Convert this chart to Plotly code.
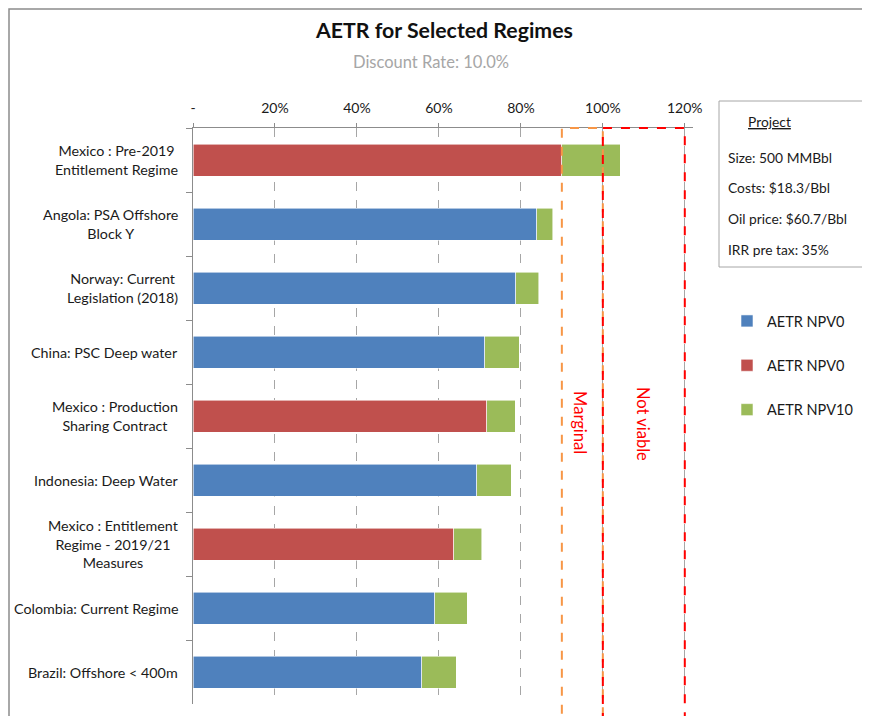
import plotly.graph_objects as go

# ---------------- data ----------------
categories = [
    "Mexico : Pre-2019<br>Entitlement Regime",
    "Angola: PSA Offshore<br>Block Y",
    "Norway: Current<br>Legislation (2018)",
    "China: PSC Deep water",
    "Mexico : Production<br>Sharing Contract",
    "Indonesia: Deep Water",
    "Mexico : Entitlement<br>Regime - 2019/21<br>Measures",
    "Colombia: Current Regime",
    "Brazil: Offshore < 400m",
]
is_mexico = [True, False, False, False, True, False, True, False, False]
aetr_npv0 = [0.900, 0.839, 0.788, 0.712, 0.717, 0.692, 0.636, 0.590, 0.558]
aetr_npv10_increment = [0.143, 0.039, 0.056, 0.084, 0.069, 0.085, 0.068, 0.079, 0.084]

tick_vals = [0, 0.2, 0.4, 0.6, 0.8, 1.0, 1.2]
tick_text = ["-", "20%", "40%", "60%", "80%", "100%", "120%"]

marginal_zone = [0.9, 1.0]
not_viable_zone = [1.0, 1.2]

project_title = "Project"
project_lines = ["Size: 500 MMBbl", "Costs: $18.3/Bbl", "Oil price: $60.7/Bbl", "IRR pre tax: 35%"]

title_text = "AETR for Selected Regimes"
subtitle_text = "Discount Rate: 10.0%"

# ---------------- styles ----------------
BLUE = "#4F81BD"
RED = "#C0504D"
GREEN = "#9BBB59"
FONT = "Lato"
TXT = "#1a1a1a"

blue_vals = [v if not m else None for v, m in zip(aetr_npv0, is_mexico)]
red_vals = [v if m else None for v, m in zip(aetr_npv0, is_mexico)]

bar_line = dict(color="rgba(255,255,255,0.7)", width=0.8)

fig = go.Figure()
fig.add_trace(go.Bar(y=categories, x=blue_vals, orientation="h", name="AETR NPV0",
                     marker=dict(color=BLUE, line=bar_line), legendgroup="a"))
fig.add_trace(go.Bar(y=categories, x=red_vals, orientation="h", name="AETR NPV0",
                     marker=dict(color=RED, line=bar_line), legendgroup="b"))
fig.add_trace(go.Bar(y=categories, x=aetr_npv10_increment, orientation="h", name="AETR NPV10",
                     marker=dict(color=GREEN, line=bar_line), legendgroup="c"))

# page offset of the plot div (browser body margin)
OFF = 8
W, H = 870, 716
# desired on-screen plot area: x 193..693, y 128..704
SX0, SX1, SY0, SY1 = 193, 693, 128, 704
L = SX0 - OFF
T = SY0 - OFF
R = W - (SX1 - OFF)
B = H - (SY1 - OFF)
PW, PH = SX1 - SX0, SY1 - SY0


def px_x(px):
    return (px - SX0) / PW


def px_y(py):
    return (SY1 - py) / PH


shapes = []
# outer chart border
shapes.append(dict(type="rect", xref="paper", yref="paper", x0=px_x(9), x1=px_x(900),
                   y0=px_y(760), y1=px_y(9), line=dict(color="#8C8C8C", width=1.5), layer="below"))
# marginal / not viable zones
shapes.append(dict(type="rect", xref="x", yref="paper", x0=marginal_zone[0], x1=marginal_zone[1],
                   y0=-0.2, y1=1, line=dict(color="#F79646", width=2, dash="dash")))
shapes.append(dict(type="rect", xref="x", yref="paper", x0=not_viable_zone[0], x1=not_viable_zone[1],
                   y0=-0.2, y1=1, line=dict(color="#FF0000", width=2, dash="dash")))
# project box
shapes.append(dict(type="rect", xref="paper", yref="paper", x0=px_x(719), x1=px_x(866),
                   y0=px_y(267), y1=px_y(101), line=dict(color="#A6A6A6", width=1), fillcolor="white"))

annotations = []
# category labels (centered lines, right-anchored block)
for c in categories:
    annotations.append(dict(text=c, xref="paper", yref="y", x=0, y=c, xanchor="right", xshift=-13,
                            yanchor="middle", align="center", showarrow=False,
                            font=dict(family=FONT, size=14.3, color=TXT)))
# title and subtitle
annotations.append(dict(text="<b>" + title_text + "</b>", xref="paper", yref="paper", x=px_x(444),
                        y=px_y(30), xanchor="center", yanchor="middle", showarrow=False,
                        font=dict(family=FONT, size=21.3, color="#111111")))
annotations.append(dict(text=subtitle_text, xref="paper", yref="paper", x=px_x(431), y=px_y(62),
                        xanchor="center", yanchor="middle", showarrow=False,
                        font=dict(family=FONT, size=16.5, color="#A6A6A6")))
# zone labels
annotations.append(dict(text="Marginal", xref="x", yref="paper", x=0.944, y=px_y(423), textangle=90,
                        showarrow=False, font=dict(family=FONT, size=16.5, color="#FF0000")))
annotations.append(dict(text="Not viable", xref="x", yref="paper", x=1.098, y=px_y(424), textangle=90,
                        showarrow=False, font=dict(family=FONT, size=16.5, color="#FF0000")))
# project box text
annotations.append(dict(text="<u>" + project_title + "</u>", xref="paper", yref="paper", x=px_x(746),
                        y=px_y(122), xanchor="left", yanchor="middle", showarrow=False,
                        font=dict(family=FONT, size=13.8, color=TXT)))
for i, line in enumerate(project_lines):
    annotations.append(dict(text=line, xref="paper", yref="paper", x=px_x(726),
                            y=px_y(157 + i * 30.7), xanchor="left", yanchor="middle", showarrow=False,
                            font=dict(family=FONT, size=13.8, color=TXT)))

fig.update_layout(
    width=W, height=H,
    margin=dict(l=L, r=R, t=T, b=B),
    paper_bgcolor="white", plot_bgcolor="white",
    barmode="stack", bargap=0.5,
    showlegend=True,
    legend=dict(x=px_x(727), y=px_y(305), xanchor="left", yanchor="top",
                traceorder="grouped", tracegroupgap=22.5,
                font=dict(family=FONT, size=14.5, color=TXT), bgcolor="rgba(0,0,0,0)"),
    shapes=shapes, annotations=annotations,
    font=dict(family=FONT),
)
fig.update_xaxes(side="top", range=[0, 1.22], tickvals=tick_vals, ticktext=tick_text,
                 showgrid=True, gridcolor="#A6A6A6", griddash="dash", gridwidth=1,
                 showline=True, linecolor="#8C8C8C", linewidth=1,
                 ticks="outside", ticklen=4, tickcolor="#8C8C8C", ticklabelstandoff=4,
                 tickfont=dict(family=FONT, size=14, color=TXT), zeroline=False)
fig.update_yaxes(autorange="reversed", showticklabels=False, showgrid=False,
                 showline=True, linecolor="#8C8C8C", linewidth=1,
                 ticks="outside", ticklen=6, tickcolor="#8C8C8C", tickson="boundaries",
                 zeroline=False)

fig.write_html("out.html")
